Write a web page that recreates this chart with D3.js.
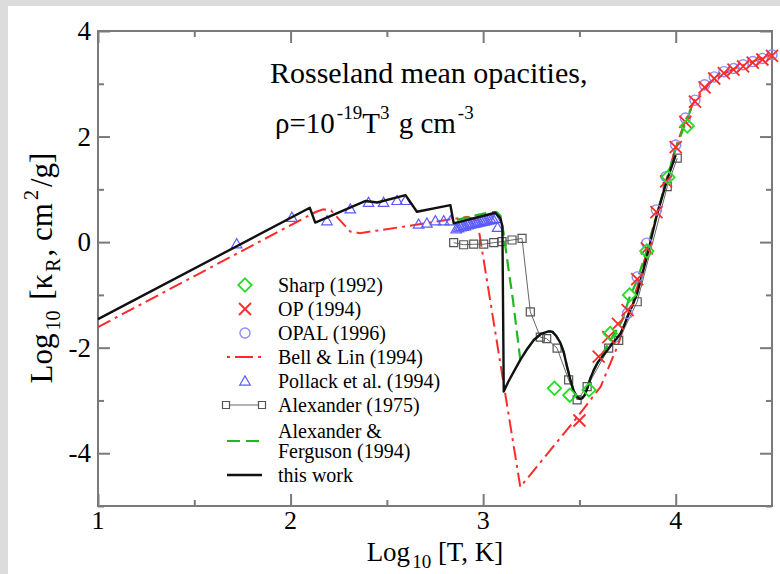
<!DOCTYPE html>
<html><head><meta charset="utf-8">
<script src="https://cdn.jsdelivr.net/npm/d3@7"></script>
<style>body{margin:0;background:#dcdcdc;} svg{display:block;}</style>
</head><body><svg id="c" width="780" height="574"></svg>
<script>
// ---------- DATA ----------
const xMajor = [1, 2, 3, 4];
const xMinor = [1.5, 2.5, 3.5];
const yMajor = [-4, -2, 0, 2, 4];
const yMinor = [-5, -3, -1, 1, 3];

const thisWork = [[1.0,-1.46],[2.10,0.65],[2.128,0.37],[2.39,0.78],[2.45,0.75],[2.597,0.89],[2.656,0.575],[2.83,0.70],[2.847,0.356],[3.063,0.557],[3.09,0.45],[3.10,0.29],[3.107,-2.83],[3.13,-2.65],[3.16,-2.45],[3.193,-2.23],[3.23,-2.02],[3.262,-1.86],[3.30,-1.74],[3.34,-1.69],[3.36,-1.70],[3.38,-1.78],[3.40,-1.90],[3.418,-2.08],[3.435,-2.35],[3.453,-2.61],[3.47,-2.82],[3.488,-2.93],[3.50,-2.97],[3.514,-2.96],[3.527,-2.90],[3.54,-2.78],[3.557,-2.58],[3.575,-2.42],[3.595,-2.28],[3.618,-2.17],[3.645,-2.05],[3.67,-1.92],[3.693,-1.83],[3.713,-1.73],[3.73,-1.60],[3.75,-1.41],[3.775,-1.20],[3.80,-0.97],[3.85,-0.28],[3.90,0.48],[3.955,1.18],[4.0,1.65]];

const alexFerguson = [[2.864,0.42],[2.967,0.51],[3.037,0.57],[3.07,0.57],[3.09,0.50],[3.105,0.20],[3.13,-0.47],[3.155,-1.10],[3.176,-1.73],[3.193,-2.23],[3.23,-2.02],[3.262,-1.86],[3.30,-1.74],[3.34,-1.69],[3.36,-1.70],[3.38,-1.78],[3.40,-1.90],[3.418,-2.08],[3.435,-2.35],[3.453,-2.61],[3.47,-2.82],[3.488,-2.93],[3.50,-2.97],[3.514,-2.96],[3.527,-2.90],[3.54,-2.78],[3.557,-2.58],[3.575,-2.42],[3.62,-2.12],[3.67,-1.80],[3.72,-1.50],[3.76,-1.05],[3.80,-0.72],[3.85,-0.15],[3.90,0.50],[3.95,1.15],[4.0,1.78],[4.05,2.25],[4.09,2.62]];

const bellLin = [[1.0,-1.61],[2.13,0.57],[2.17,0.62],[2.21,0.60],[2.27,0.36],[2.31,0.20],[2.36,0.17],[2.60,0.30],[2.81,0.42],[2.92,0.48],[2.97,0.40],[3.193,-4.64],[3.49,-3.31],[3.61,-2.74],[3.70,-1.95],[3.80,-0.85],[3.90,0.50],[4.0,1.80],[4.05,2.30],[4.10,2.70],[4.20,3.10],[4.30,3.28],[4.40,3.42],[4.50,3.55]];

const alexander75 = [[2.847,-0.01],[2.899,-0.05],[2.951,-0.04],[3.003,-0.04],[3.055,-0.01],[3.098,0.01],[3.150,0.04],[3.202,0.07],[3.245,-1.32],[3.297,-1.80],[3.33,-1.83],[3.384,-2.01],[3.444,-2.61],[3.488,-2.99],[3.54,-2.74],[3.652,-2.01],[3.704,-1.86],[3.80,-1.13],[3.956,1.05],[4.008,1.59]];

const pollack = [[1.72,-0.05],[2.007,0.45],[2.189,0.386],[2.31,0.61],[2.405,0.735],[2.483,0.735],[2.553,0.77],[2.596,0.77],[2.665,0.324],[2.708,0.343],[2.752,0.386],[2.795,0.386],[2.83,0.386],[2.86,0.23],[2.872,0.25],[2.884,0.27],[2.896,0.28],[2.908,0.29],[2.92,0.31],[2.932,0.32],[2.944,0.33],[2.956,0.34],[2.968,0.35],[2.98,0.36],[2.992,0.37],[3.004,0.38],[3.016,0.39],[3.028,0.40],[3.04,0.41],[3.052,0.42],[3.064,0.43],[3.075,0.26]];

const opal = [[3.75,-1.35],[3.80,-0.66],[3.85,-0.02],[3.90,0.61],[3.95,1.24],[4.0,1.84],[4.05,2.35],[4.10,2.69],[4.15,2.98],[4.20,3.13],[4.25,3.23],[4.30,3.29],[4.35,3.36],[4.40,3.42],[4.45,3.48],[4.50,3.55]];

const op = [[3.50,-3.38],[3.60,-2.17],[3.65,-1.80],[3.70,-1.55],[3.75,-1.29],[3.80,-0.70],[3.85,-0.12],[3.90,0.57],[3.95,1.15],[4.0,1.80],[4.05,2.28],[4.10,2.66],[4.15,2.93],[4.20,3.10],[4.25,3.20],[4.30,3.27],[4.35,3.33],[4.40,3.40],[4.45,3.46],[4.50,3.53]];

const sharp = [[3.37,-2.77],[3.45,-2.90],[3.55,-2.80],[3.66,-1.73],[3.76,-1.00],[3.85,-0.17],[3.96,1.23],[4.06,2.20]];

const legendLabels = ["Sharp (1992)","OP (1994)","OPAL (1996)","Bell & Lin (1994)","Pollack et al. (1994)","Alexander (1975)","Alexander &","Ferguson (1994)","this work"];

// ---------- DRAWING ----------
const W = 780, H = 574;
const FONT = "'Liberation Serif','Times New Roman',serif";
const svg = d3.select("#c");
svg.append("rect").attr("x",8).attr("y",6).attr("width",W-8).attr("height",H-6).attr("fill","#fff");

const x = d3.scaleLinear().domain([1,4.5]).range([98,772]);
const y = d3.scaleLinear().domain([-5,4]).range([506,31]);
const AX = "#7a7a7a";

function tickAxis(axis, tx, ty){
  const g = svg.append("g").attr("transform",`translate(${tx},${ty})`).call(axis);
  g.select(".domain").remove();
  g.selectAll("line").attr("stroke",AX).attr("stroke-width",2);
  return g;
}
tickAxis(d3.axisBottom(x).tickValues(xMajor).tickSize(-12).tickFormat(""),0,506);
tickAxis(d3.axisBottom(x).tickValues(xMinor).tickSize(-6).tickFormat(""),0,506);
tickAxis(d3.axisTop(x).tickValues(xMajor).tickSize(-12).tickFormat(""),0,31);
tickAxis(d3.axisTop(x).tickValues(xMinor).tickSize(-6).tickFormat(""),0,31);
tickAxis(d3.axisLeft(y).tickValues(yMajor).tickSize(-12).tickFormat(""),98,0);
tickAxis(d3.axisLeft(y).tickValues(yMinor).tickSize(-6).tickFormat(""),98,0);
tickAxis(d3.axisRight(y).tickValues(yMajor).tickSize(-12).tickFormat(""),772,0);
tickAxis(d3.axisRight(y).tickValues(yMinor).tickSize(-6).tickFormat(""),772,0);

svg.append("rect").attr("x",98).attr("y",31).attr("width",772-98).attr("height",506-31)
  .attr("fill","none").attr("stroke",AX).attr("stroke-width",2);

// tick labels
svg.append("g").selectAll("text").data(xMajor).join("text")
  .attr("x",d=>x(d)).attr("y",529).attr("text-anchor","middle")
  .attr("font-family",FONT).attr("font-size",26).text(d=>d);
svg.append("g").selectAll("text").data(yMajor).join("text")
  .attr("x",91).attr("y",d=>y(d)+9).attr("text-anchor","end")
  .attr("font-family",FONT).attr("font-size",27).text(d=>d);

// axis titles
const xl = svg.append("text").attr("x",435).attr("y",561).attr("text-anchor","middle")
  .attr("font-family",FONT).attr("font-size",27);
xl.append("tspan").text("Log");
xl.append("tspan").attr("font-size",19).attr("dy",7).attr("dx",2).text("10");
xl.append("tspan").attr("dy",-7).text(" [T, K]");

const yl = svg.append("text").attr("transform","rotate(-90)").attr("x",-268).attr("y",52)
  .attr("text-anchor","middle").attr("font-family",FONT).attr("font-size",31);
yl.append("tspan").text("Log");
yl.append("tspan").attr("font-size",20).attr("dy",8).attr("dx",3).text("10");
yl.append("tspan").attr("dy",-8).attr("dx",3).text(" [κ");
yl.append("tspan").attr("font-size",20).attr("dy",8).attr("dx",2).text("R");
yl.append("tspan").attr("dy",-8).attr("dx",2).text(", cm");
yl.append("tspan").attr("font-size",20).attr("dy",-14).attr("dx",3).text("2");
yl.append("tspan").attr("dy",14).attr("dx",3).text("/g]");

// title
svg.append("text").attr("x",270).attr("y",83).attr("font-family",FONT).attr("font-size",30)
  .text("Rosseland mean opacities,");
const t2 = svg.append("text").attr("x",275).attr("y",133).attr("font-family",FONT).attr("font-size",29);
t2.append("tspan").text("ρ=10");
t2.append("tspan").attr("font-size",19).attr("dy",-14).attr("dx",2).text("-19");
t2.append("tspan").attr("dy",14).text("T");
t2.append("tspan").attr("font-size",19).attr("dy",-14).text("3");
t2.append("tspan").attr("dy",14).attr("dx",2).text(" g cm");
t2.append("tspan").attr("font-size",19).attr("dy",-14).attr("dx",2).text("-3");

// lines
const lineLin = d3.line().x(d=>x(d[0])).y(d=>y(d[1]));

const RED="#ff2a2a", GREEN="#1fb81f", BLUE_T="#5a5aff", BLUE_C="#8c8cff", GRAY="#555", GREEN_D="#22dd22";

svg.append("path").datum(bellLin).attr("d",lineLin).attr("fill","none")
  .attr("stroke",RED).attr("stroke-width",2).attr("stroke-dasharray","14,5,3,5");

svg.append("path").datum(alexander75).attr("d",lineLin).attr("fill","none")
  .attr("stroke","#666").attr("stroke-width",1);
svg.append("g").selectAll("path").data(alexander75).join("path")
  .attr("transform",d=>`translate(${x(d[0])},${y(d[1])})`)
  .attr("d",d3.symbol(d3.symbolSquare,64)).attr("fill","none").attr("stroke",GRAY).attr("stroke-width",1.2);

svg.append("g").selectAll("path").data(pollack).join("path")
  .attr("transform",d=>`translate(${x(d[0])},${y(d[1])})`)
  .attr("d",d3.symbol(d3.symbolTriangle,48)).attr("fill","none").attr("stroke",BLUE_T).attr("stroke-width",1.2);

svg.append("path").datum(alexFerguson).attr("d",lineLin).attr("fill","none")
  .attr("stroke",GREEN).attr("stroke-width",2.2).attr("stroke-dasharray","12,6");

svg.append("path").datum(thisWork).attr("d",lineLin).attr("fill","none")
  .attr("stroke","#111").attr("stroke-width",2.4).attr("stroke-linejoin","round");

svg.append("g").selectAll("path").data(opal).join("path")
  .attr("transform",d=>`translate(${x(d[0])},${y(d[1])})`)
  .attr("d",d3.symbol(d3.symbolCircle,80)).attr("fill","none").attr("stroke",BLUE_C).attr("stroke-width",1.4);

svg.append("g").selectAll("path").data(op).join("path")
  .attr("transform",d=>`translate(${x(d[0])},${y(d[1])})`)
  .attr("d",d3.symbol(d3.symbolTimes,96)).attr("fill","none").attr("stroke",RED).attr("stroke-width",1.8);

svg.append("g").selectAll("path").data(sharp).join("path")
  .attr("transform",d=>`translate(${x(d[0])},${y(d[1])}) rotate(45)`)
  .attr("d",d3.symbol(d3.symbolSquare,90)).attr("fill","none").attr("stroke",GREEN_D).attr("stroke-width",1.8);

// legend
const LX = 245, TX = 278;
const rows = [285,309,333,357,381,405,431,451,475];
const lg = svg.append("g");
lg.selectAll("text").data(legendLabels).join("text")
  .attr("x",TX).attr("y",(d,i)=>rows[i]+7).attr("font-family",FONT).attr("font-size",20).text(d=>d);
lg.append("path").attr("transform",`translate(${LX},${rows[0]}) rotate(45)`)
  .attr("d",d3.symbol(d3.symbolSquare,90)).attr("fill","none").attr("stroke",GREEN_D).attr("stroke-width",1.8);
lg.append("path").attr("transform",`translate(${LX},${rows[1]})`)
  .attr("d",d3.symbol(d3.symbolTimes,96)).attr("fill","none").attr("stroke",RED).attr("stroke-width",1.8);
lg.append("path").attr("transform",`translate(${LX},${rows[2]})`)
  .attr("d",d3.symbol(d3.symbolCircle,80)).attr("fill","none").attr("stroke",BLUE_C).attr("stroke-width",1.4);
lg.append("line").attr("x1",227).attr("x2",262).attr("y1",rows[3]).attr("y2",rows[3])
  .attr("stroke",RED).attr("stroke-width",2).attr("stroke-dasharray","3,5,18,5,3");
lg.append("path").attr("transform",`translate(${LX},${rows[4]+1})`)
  .attr("d",d3.symbol(d3.symbolTriangle,48)).attr("fill","none").attr("stroke",BLUE_T).attr("stroke-width",1.2);
lg.append("line").attr("x1",226).attr("x2",262).attr("y1",rows[5]).attr("y2",rows[5])
  .attr("stroke","#666").attr("stroke-width",1);
[226,262].forEach(px=>lg.append("path").attr("transform",`translate(${px},${rows[5]})`)
  .attr("d",d3.symbol(d3.symbolSquare,49)).attr("fill","#fff").attr("stroke",GRAY).attr("stroke-width",1.2));
lg.append("line").attr("x1",227).attr("x2",262).attr("y1",441).attr("y2",441)
  .attr("stroke",GREEN).attr("stroke-width",2.2).attr("stroke-dasharray","13,6");
lg.append("line").attr("x1",227).attr("x2",262).attr("y1",rows[8]).attr("y2",rows[8])
  .attr("stroke","#111").attr("stroke-width",2.4);
</script></body></html>
